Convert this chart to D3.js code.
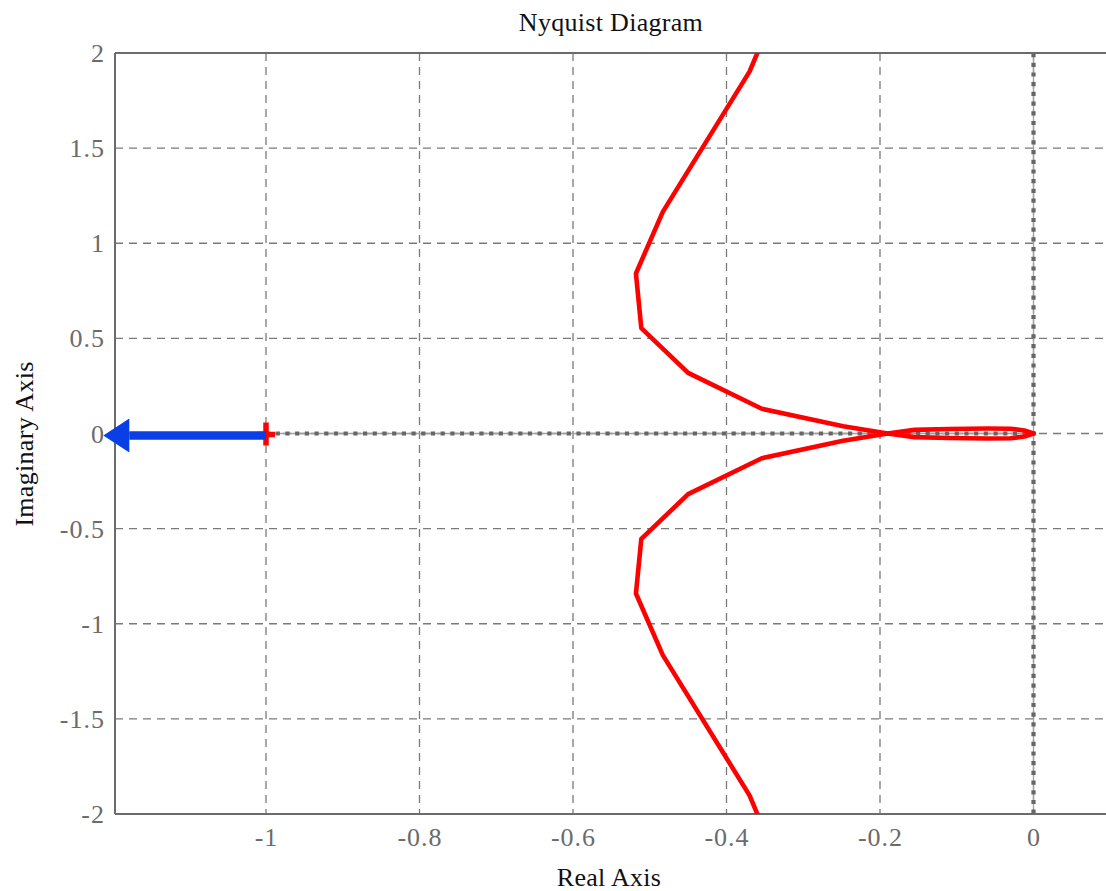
<!DOCTYPE html>
<html>
<head>
<meta charset="utf-8">
<script src="https://cdn.jsdelivr.net/npm/d3@7"></script>
<style>
  html, body { margin: 0; padding: 0; background: #fff; }
  svg { display: block; }
  text { font-family: "Liberation Serif", "DejaVu Serif", serif; }
</style>
</head>
<body>
<svg id="chart" width="1106" height="891"></svg>
<script>
// Nyquist branch for positive frequencies (real / imaginary parts, in order);
// the negative-frequency branch is its complex conjugate.
const branchRe = [-0.339, -0.370, -0.483, -0.518, -0.511, -0.450, -0.354, -0.248, -0.190, -0.155, -0.110, -0.060, -0.030, -0.012, 0];
const branchIm = [2.20, 1.902, 1.165, 0.841, 0.554, 0.319, 0.130, 0.0386, 0, -0.019, -0.024, -0.026, -0.025, -0.016, 0];

// Tick values and labels
const xTicks = [-1, -0.8, -0.6, -0.4, -0.2, 0];
const xTickLabels = ["-1", "-0.8", "-0.6", "-0.4", "-0.2", "0"];
const yTicks = [-2, -1.5, -1, -0.5, 0, 0.5, 1, 1.5, 2];
const yTickLabels = ["-2", "-1.5", "-1", "-0.5", "0", "0.5", "1", "1.5", "2"];

// Critical point and direction arrow
const criticalPoint = [-1, 0];
const arrowFromRe = -1;
const arrowTipRe = -1.212;

const svg = d3.select("#chart");
const plotLeft = 115, plotRight = 1106, plotTop = 53, plotBottom = 814;

const x = d3.scaleLinear().domain([-1, 0]).range([266, 1033.5]);
const y = d3.scaleLinear().domain([-2, 2]).range([plotBottom, plotTop]);

const gray = "#6b6b6b";
const tickSpacing = 1;

// Grid
const grid = svg.append("g");
grid.selectAll("line.v").data(xTicks).join("line")
  .attr("x1", d => x(d)).attr("x2", d => x(d))
  .attr("y1", plotTop).attr("y2", plotBottom)
  .attr("stroke", "#7a7a7a").attr("stroke-width", 1.3)
  .attr("stroke-dasharray", "8,6");
grid.selectAll("line.h").data(yTicks).join("line")
  .attr("x1", plotLeft).attr("x2", plotRight)
  .attr("y1", d => y(d)).attr("y2", d => y(d))
  .attr("stroke", "#7a7a7a").attr("stroke-width", 1.3)
  .attr("stroke-dasharray", "8,6");

// Real and imaginary axes drawn as dotted lines
const dotted = svg.append("g");
function dottedLine(x1, y1, x2, y2) {
  dotted.append("line").attr("x1", x1).attr("y1", y1).attr("x2", x2).attr("y2", y2)
    .attr("stroke", "#a0a0a0").attr("stroke-width", 1.3);
  dotted.append("line").attr("x1", x1).attr("y1", y1).attr("x2", x2).attr("y2", y2)
    .attr("stroke", "#666").attr("stroke-width", 4.2).attr("stroke-dasharray", "4.2,5.5");
}
dottedLine(x(-1), y(0), x(0), y(0));
dottedLine(x(0), y(2), x(0), y(-2));

// Frame: left, bottom, top
const frame = svg.append("g").attr("stroke", gray).attr("stroke-width", 2).attr("fill", "none");
frame.append("line").attr("x1", plotLeft).attr("x2", plotLeft).attr("y1", plotTop).attr("y2", plotBottom);
frame.append("line").attr("x1", plotLeft).attr("x2", plotRight).attr("y1", plotBottom).attr("y2", plotBottom);
frame.append("line").attr("x1", plotLeft).attr("x2", plotRight).attr("y1", plotTop).attr("y2", plotTop);

// Tick labels
svg.append("g").selectAll("text").data(xTicks).join("text")
  .attr("x", d => x(d) + tickSpacing / 2).attr("y", 846)
  .attr("text-anchor", "middle").attr("font-size", 26).attr("fill", gray)
  .attr("letter-spacing", tickSpacing)
  .text((d, i) => xTickLabels[i]);
svg.append("g").selectAll("text").data(yTicks).join("text")
  .attr("x", 104 + tickSpacing).attr("y", d => y(d)).attr("dy", "0.35em")
  .attr("text-anchor", "end").attr("font-size", 26).attr("fill", gray)
  .attr("letter-spacing", tickSpacing)
  .text((d, i) => yTickLabels[i]);

// Titles
svg.append("text").attr("x", 611).attr("y", 31).attr("text-anchor", "middle")
  .attr("font-size", 26).attr("fill", "#111").attr("letter-spacing", 0.3)
  .text("Nyquist Diagram");
svg.append("text").attr("x", 609).attr("y", 886).attr("text-anchor", "middle")
  .attr("font-size", 26).attr("fill", "#111").attr("letter-spacing", 0.3)
  .text("Real Axis");
svg.append("text").attr("transform", "translate(33,444) rotate(-90)").attr("text-anchor", "middle")
  .attr("font-size", 26).attr("fill", "#111").attr("letter-spacing", 0.3)
  .text("Imaginary Axis");

// Clip for the curve
svg.append("clipPath").attr("id", "plotClip").append("rect")
  .attr("x", plotLeft).attr("y", plotTop).attr("width", plotRight - plotLeft).attr("height", plotBottom - plotTop);

const line = d3.line().x(d => x(d[0])).y(d => y(d[1]));
const posBranch = branchRe.map((r, i) => [r, branchIm[i]]);
const negBranch = branchRe.map((r, i) => [r, -branchIm[i]]);

const curves = svg.append("g").attr("clip-path", "url(#plotClip)");
[posBranch, negBranch].forEach(b => {
  curves.append("path").attr("d", line(b))
    .attr("fill", "none").attr("stroke", "#ff0000").attr("stroke-width", 4.6)
    .attr("stroke-linejoin", "round").attr("stroke-linecap", "round");
});

// Critical point marker
const cx = x(criticalPoint[0]), cy = y(criticalPoint[1]);
svg.append("path")
  .attr("d", `M${cx - 9},${cy + 1}H${cx + 9}M${cx},${cy - 11}V${cy + 12}`)
  .attr("stroke", "#ff0000").attr("stroke-width", 5.5).attr("fill", "none");

// Blue arrow pointing to the left
const ay = y(0) + 2;
const tip = x(arrowTipRe), base = tip + 26, start = x(arrowFromRe);
svg.append("line").attr("x1", start).attr("x2", base).attr("y1", ay).attr("y2", ay)
  .attr("stroke", "#0a3fe6").attr("stroke-width", 8.5);
svg.append("path")
  .attr("d", `M${tip},${ay}L${base},${ay - 17}L${base},${ay + 17}Z`)
  .attr("fill", "#0a3fe6");
</script>
</body>
</html>
